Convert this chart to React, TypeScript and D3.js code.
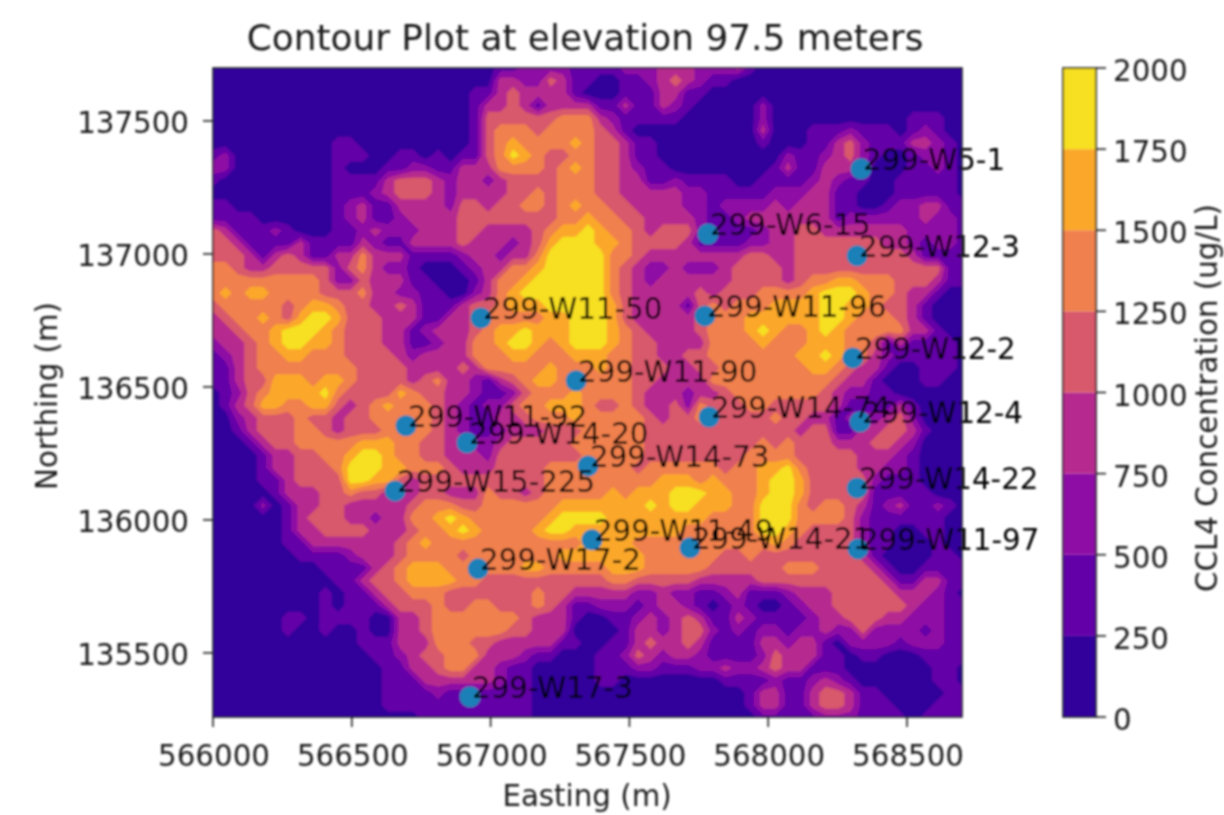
import React from "react";
import * as d3 from "d3";

const levels = [0, 250, 500, 750, 1000, 1250, 1500, 1750, 2000];
const bandColors = ["#31059b", "#6300a7", "#8e0ca4", "#b62a8f", "#d8586c", "#f0804e", "#fba72a", "#f7df24"];
const bandMidpoints = [125, 375, 625, 875, 1125, 1375, 1625, 1875];
const xTicks = [566000, 566500, 567000, 567500, 568000, 568500];
const yTicks = [135500, 136000, 136500, 137000, 137500];

// concentration band (0-7) read at each grid node, north to south, west to east
const gridRows = [
  "0000000000 000000000000 000112222 11 112223332223100000000000000000".slice(0, 0) + "0000000000000000000000011222211 112223332223100000000000000000",
  "0000000000000000000000033224311 001123432110000000000000000000",
  "0000000000000000000001134333310 001113311000000000000000000000",
  "0000000000000000000001334313333 113113210000020000000000000000",
  "0000000000000000000001444444555 321111100000020000000000011100",
  "0000000000000000000001455545555 431000000000030001112111012100",
  "0000000000110000000001456555565 443110000000010001134211133210",
  "1200000000111001101011457654455 443110000000000211234210012210",
  "2200000000100011221133355554565 443211000000001311333200011210",
  "1000000000111134443233234444555 443311211110011112321100111110",
  "0000000000111234443233334454555 443333322111112223311000111110",
  "1100000000123113333244344554565 544333322122223233311001223311",
  "1111000000123112333344444444556 554433332112333333312222223221",
  "4311121000112322233344333345667 655434442111123344333333322221",
  "4431111311113211333343332346777 665444431111223344444443321221",
  "4443134311335333111123323357777 755433333333443344444544431111",
  "5543344444245322100012335567777 754322322234444344444444444411",
  "5555555554224333110001355677777 754323333334444345566555444311",
  "5656655554445332211002356777777 754333334344455556777655433100",
  "4555554566544334311134456667777 764333314545556666776654431000",
  "3455654677644433311334555556677 764333334555666666776555431000",
  "3345567776544433123334566766677 765433334555676556765555533100",
  "2334567766544433112335567765677 765443333555565556665541311110",
  "1234556655544443233335556655566 655443344555555566765532111110",
  "1134555555554444333343555556555 655444334455555556654331001110",
  "1134466656654444345332134566555 555443333555555555543310001100",
  "0124566667544446544332112455565 555433323345555555432211000000",
  "0134665566434565554321224556665 445433425444554444431111310000",
  "0023444544344555554321133455565 555543445444445443312223420000",
  "0013444554344455554321123334445 555544444444444434411334431000",
  "0001344555556665544332234444455 555544444444454544433344320000",
  "0000133445567765544333244444445 555544444444555544444333210000",
  "0000133444577766555433344445555 555455555545566754444332210000",
  "0000113444477664344444444445555 555556665655567764444421110000",
  "0000013334454433344333544345555 565666777665567764444411111000",
  "0000201334433333455544555555666 666676776665577754554312311210",
  "0000001344433233556765555556777 766666666555577755554211111100",
  "0000001334444333455676555567766 666666655555577654444211001100",
  "0000001133333334565555555555556 666555555555556544444211000100",
  "0000000111123334555545555555666 666655555544544444444310000110",
  "0000000001111345666555555665555 566655555444444555444431001111",
  "0000000000113445666655444444444 455444443333344444444443113311",
  "0000000001011344555444444454433 333223221123111233344444333210",
  "0000000001011134445445544454311 222123321012100123344444432211",
  "0000001101111003345555555433310 011232343113211112334443322211",
  "0000001001001003345555554433300 001332344212122122322422221211",
  "0000000000001113335554433333110 011343343111133233102222122211",
  "0000000000000112344555333211000 112432332111124333110110001111",
  "0000000000000011334553321100000 111221112232234331110000000110",
  "0000000000000011133333321100000 110000000011112112321000000110",
  "0000000000000011112111111100000 000000000000133113443110000011",
  "0000000000000011111111111100000 000000000000133113443111000111",
  "0000000000000000011111111100000 000000000000011111222111101111",
];
const gridBands = gridRows.map((r) => Array.from(r.replace(/\s/g, "")).map(Number));

const wellNames = ["299-W5-1","299-W6-15","299-W12-3","299-W11-50","299-W11-96","299-W12-2","299-W11-90","299-W14-74","299-W12-4","299-W11-92","299-W14-20","299-W14-73","299-W15-225","299-W14-22","299-W11-49","299-W14-21","299-W11-97","299-W17-2","299-W17-3"];
const wellEasting = [568334,567783,568320,566965,567772,568305,567308,567787,568331,566695,566915,567351,566656,568320,567365,567718,568323,566955,566926];
const wellNorthing = [137320,137075,136993,136759,136767,136609,136523,136387,136369,136354,136290,136203,136109,136120,135925,135895,135891,135816,135335];

const FONT = "'DejaVu Sans', sans-serif";
const INK = "#1c1c1c";

export default function App() {
  const x = d3.scaleLinear().domain([566000, 568698]).range([213, 962]);
  const y = d3.scaleLinear().domain([135259, 137699]).range([717, 68]);
  const cb = d3.scaleLinear().domain([0, 2000]).range([717, 68]);

  const ny = gridBands.length;
  const nx = gridBands[0].length;
  const gridX = d3.scaleLinear().domain([0, nx - 1]).range([566000, 568702]);
  const gridY = d3.scaleLinear().domain([0, ny - 1]).range([137699, 135255]);
  const values = gridBands.flat().map((b) => bandMidpoints[b]);

  const contours = d3.contours().size([nx, ny]).thresholds(levels.slice(1, -1))(values);
  const transform = d3.geoTransform({
    point(px: number, py: number) {
      (this as any).stream.point(x(gridX(px - 0.5)), y(gridY(py - 0.5)));
    },
  });
  const path = d3.geoPath(transform);

  const [x0, x1] = x.range();
  const [y0, y1] = y.range();

  return (
    <svg width={1224} height={815} style={{ position: "absolute", left: 0, top: 0, display: "block", background: "#fff" }} fontFamily={FONT}>
      <defs>
        <clipPath id="plot"><rect x={x0} y={y1} width={x1 - x0} height={y0 - y1} /></clipPath>
        <filter id="soft" x="-2%" y="-2%" width="104%" height="104%"><feGaussianBlur stdDeviation="0.9" /></filter>
      </defs>
      <g filter="url(#soft)">
        <g clipPath="url(#plot)">
          <rect x={x0} y={y1} width={x1 - x0} height={y0 - y1} fill={bandColors[0]} />
          {contours.map((c: any, i: number) => (
            <path key={i} d={path(c) || ""} fill={bandColors[i + 1]} />
          ))}
          {wellNames.map((n, i) => (
            <circle key={n} cx={x(wellEasting[i])} cy={y(wellNorthing[i])} r={10.5} fill="#1f80b8" />
          ))}
        </g>
        {wellNames.map((n, i) => (
          <text key={n} x={x(wellEasting[i]) + 2} y={y(wellNorthing[i]) + 1} fontSize={29.3} fill="#000">{n}</text>
        ))}
        <rect x={x0} y={y1} width={x1 - x0} height={y0 - y1} fill="none" stroke="#222" strokeWidth={1.6} />
        {xTicks.map((t) => (
          <g key={t}>
            <line x1={x(t)} x2={x(t)} y1={y0} y2={y0 + 10} stroke="#222" strokeWidth={1.6} />
            <text x={x(t) + 1} y={766} textAnchor="middle" fontSize={29.3} fill={INK}>{t}</text>
          </g>
        ))}
        {yTicks.map((t) => (
          <g key={t}>
            <line x1={x0 - 10} x2={x0} y1={y(t)} y2={y(t)} stroke="#222" strokeWidth={1.6} />
            <text x={x0 - 24} y={y(t) + 12} textAnchor="end" fontSize={29.3} fill={INK}>{t}</text>
          </g>
        ))}
        <text x={585} y={50} textAnchor="middle" fontSize={35.9} fill={INK}>Contour Plot at elevation 97.5 meters</text>
        <text x={587} y={806} textAnchor="middle" fontSize={29.3} fill={INK}>Easting (m)</text>
        <text transform="translate(57,396) rotate(-90)" textAnchor="middle" fontSize={29.3} fill={INK}>Northing (m)</text>
        {bandColors.map((c, i) => (
          <rect key={c} x={1063} y={cb(levels[i + 1])} width={33} height={cb(levels[i]) - cb(levels[i + 1])} fill={c} />
        ))}
        <rect x={1063} y={68} width={33} height={649} fill="none" stroke="#222" strokeWidth={1.6} />
        {levels.map((t) => (
          <g key={t}>
            <line x1={1096} x2={1106} y1={cb(t)} y2={cb(t)} stroke="#222" strokeWidth={1.6} />
            <text x={1113} y={cb(t) + 13} fontSize={29.3} fill={INK}>{t}</text>
          </g>
        ))}
        <text transform="translate(1217,398) rotate(-90)" textAnchor="middle" fontSize={29.3} fill={INK}>CCL4 Concentration (ug/L)</text>
      </g>
    </svg>
  );
}
